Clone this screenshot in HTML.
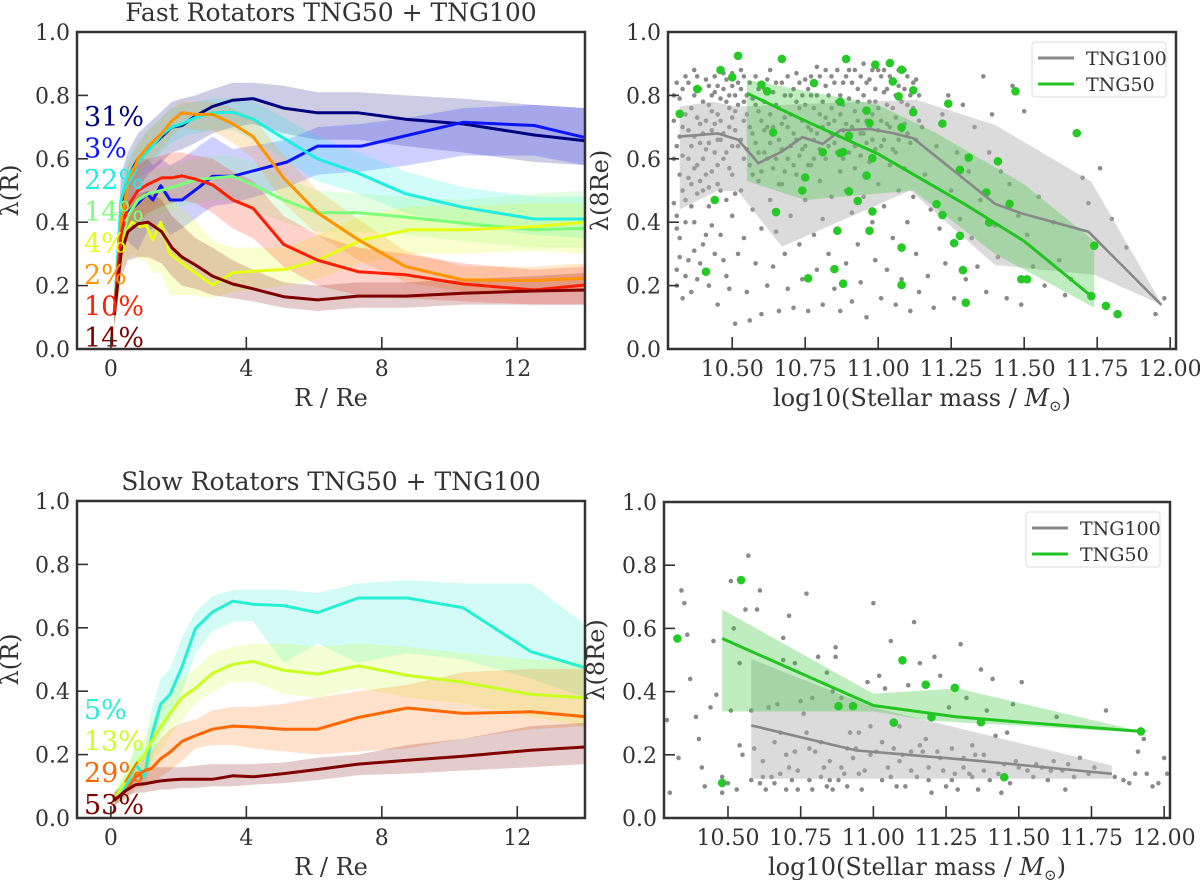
<!DOCTYPE html>
<html><head><meta charset="utf-8">
<style>
html,body{margin:0;padding:0;background:#fff;}
svg{display:block;font-family:"DejaVu Serif","Liberation Serif",serif;}
</style></head>
<body>
<svg id="fig" width="1200" height="880" viewBox="0 0 1200 880" xmlns="http://www.w3.org/2000/svg"></svg>
<script>
// ---------- Top-left: fast rotators ----------
const fastR = [0.1,0.3,0.5,0.8,1.1,1.5,1.8,2.1,2.5,3.0,3.6,4.2,5.1,6.1,7.3,8.7,10.4,12.5,14];
const fastBlueR = [0.1,0.3,0.5,0.8,1.07,1.24,1.47,1.75,2.1,2.6,3.0,3.6,5.2,6.1,7.4,8.8,10.4,12.5,14];
const fastYellowR = [0.1,0.34,0.62,0.85,1.05,1.24,1.47,1.75,2.37,3.0,3.6,5.2,6.1,7.4,8.8,10.4,12.5,14];
const fastNavy = [0.11,0.45,0.54,0.60,0.63,0.67,0.70,0.705,0.735,0.765,0.785,0.79,0.76,0.745,0.745,0.725,0.71,0.675,0.657];
const fastNavyLo = [0.07,0.36,0.45,0.51,0.55,0.59,0.62,0.63,0.65,0.68,0.70,0.71,0.68,0.66,0.66,0.64,0.62,0.59,0.58];
const fastNavyHi = [0.15,0.55,0.62,0.68,0.71,0.75,0.78,0.79,0.80,0.82,0.84,0.84,0.83,0.81,0.81,0.80,0.79,0.77,0.76];
const fastBlue = [0.11,0.41,0.43,0.46,0.49,0.47,0.515,0.47,0.47,0.51,0.545,0.545,0.59,0.64,0.64,0.675,0.715,0.705,0.667];
const fastBlueLo = [0.08,0.33,0.34,0.31,0.37,0.38,0.40,0.36,0.38,0.42,0.45,0.46,0.51,0.55,0.56,0.58,0.61,0.61,0.58];
const fastBlueHi = [0.14,0.48,0.55,0.60,0.60,0.58,0.60,0.58,0.60,0.64,0.67,0.63,0.66,0.70,0.71,0.73,0.76,0.77,0.76];
const fastCyan = [0.11,0.47,0.545,0.59,0.625,0.675,0.70,0.71,0.73,0.745,0.747,0.725,0.665,0.60,0.555,0.49,0.447,0.41,0.41];
const fastCyanLo = [0.08,0.40,0.48,0.53,0.57,0.62,0.65,0.67,0.68,0.69,0.69,0.66,0.60,0.53,0.49,0.43,0.39,0.36,0.35];
const fastCyanHi = [0.14,0.53,0.60,0.65,0.69,0.73,0.76,0.77,0.78,0.79,0.79,0.78,0.73,0.67,0.62,0.56,0.51,0.48,0.48];
const fastGreen = [0.11,0.33,0.42,0.47,0.49,0.50,0.51,0.52,0.534,0.539,0.545,0.518,0.47,0.43,0.43,0.416,0.397,0.376,0.381];
const fastGreenLo = [0.07,0.27,0.35,0.40,0.42,0.43,0.44,0.45,0.46,0.47,0.47,0.44,0.40,0.37,0.37,0.36,0.34,0.32,0.32];
const fastGreenHi = [0.15,0.40,0.49,0.54,0.56,0.57,0.58,0.59,0.60,0.61,0.61,0.59,0.54,0.50,0.49,0.48,0.47,0.49,0.50];
const fastYellow = [0.11,0.344,0.40,0.386,0.39,0.344,0.40,0.30,0.25,0.202,0.241,0.252,0.28,0.344,0.376,0.376,0.386,0.40];
const fastYellowLo = [0.07,0.26,0.30,0.28,0.28,0.24,0.24,0.17,0.17,0.16,0.18,0.20,0.22,0.27,0.30,0.30,0.31,0.30];
const fastYellowHi = [0.15,0.42,0.48,0.48,0.50,0.48,0.50,0.47,0.42,0.34,0.32,0.32,0.36,0.42,0.45,0.45,0.46,0.46];
const fastOrange = [0.11,0.40,0.52,0.60,0.64,0.68,0.72,0.745,0.74,0.74,0.71,0.67,0.54,0.43,0.345,0.26,0.218,0.216,0.223];
const fastOrangeLo = [0.07,0.33,0.45,0.54,0.59,0.63,0.67,0.70,0.69,0.69,0.65,0.60,0.46,0.36,0.28,0.21,0.18,0.18,0.18];
const fastOrangeHi = [0.15,0.46,0.58,0.65,0.69,0.73,0.76,0.78,0.78,0.78,0.76,0.73,0.61,0.50,0.41,0.31,0.26,0.26,0.27];
const fastRed = [0.11,0.36,0.45,0.50,0.52,0.54,0.54,0.546,0.536,0.518,0.47,0.444,0.33,0.28,0.244,0.234,0.205,0.186,0.202];
const fastRedLo = [0.07,0.28,0.36,0.40,0.43,0.45,0.46,0.47,0.46,0.43,0.38,0.35,0.26,0.20,0.17,0.16,0.15,0.14,0.14];
const fastRedHi = [0.15,0.44,0.53,0.58,0.60,0.61,0.62,0.62,0.61,0.60,0.56,0.53,0.42,0.36,0.32,0.30,0.27,0.25,0.26];
const fastDark = [0.107,0.30,0.37,0.395,0.40,0.37,0.32,0.29,0.265,0.23,0.205,0.19,0.165,0.155,0.167,0.167,0.176,0.183,0.186];
const fastDarkLo = [0.07,0.22,0.28,0.29,0.29,0.27,0.23,0.20,0.19,0.17,0.16,0.15,0.13,0.12,0.13,0.13,0.14,0.14,0.14];
const fastDarkHi = [0.15,0.38,0.45,0.49,0.50,0.47,0.42,0.39,0.35,0.32,0.28,0.25,0.21,0.20,0.21,0.21,0.22,0.23,0.24];
const fastPct = ["31%","3%","22%","14%","4%","2%","10%","14%"];

// ---------- Bottom-left: slow rotators ----------
const slowR = [0.1,0.45,0.73,1.0,1.2,1.47,1.75,2.1,2.5,3.0,3.6,4.2,5.1,6.1,7.3,8.75,10.4,12.4,14];
const slowTurq = [0.056,0.098,0.17,0.13,0.256,0.36,0.39,0.477,0.598,0.65,0.684,0.674,0.67,0.648,0.694,0.694,0.663,0.525,0.474];
const slowTurqLo = [0.04,0.06,0.12,0.10,0.18,0.27,0.31,0.40,0.52,0.59,0.62,0.62,0.49,0.55,0.49,0.52,0.50,0.44,0.38];
const slowTurqHi = [0.08,0.14,0.23,0.22,0.34,0.44,0.47,0.57,0.65,0.70,0.72,0.72,0.72,0.71,0.74,0.75,0.74,0.74,0.61];
const slowLime = [0.056,0.12,0.17,0.20,0.24,0.287,0.33,0.38,0.41,0.456,0.485,0.494,0.466,0.454,0.48,0.45,0.428,0.39,0.379];
const slowLimeLo = [0.04,0.08,0.12,0.14,0.17,0.21,0.26,0.31,0.36,0.40,0.43,0.43,0.39,0.38,0.41,0.38,0.36,0.32,0.29];
const slowLimeHi = [0.08,0.16,0.22,0.25,0.30,0.36,0.40,0.44,0.47,0.52,0.54,0.55,0.55,0.54,0.55,0.54,0.52,0.50,0.49];
const slowOrange = [0.056,0.087,0.13,0.15,0.156,0.187,0.208,0.242,0.26,0.28,0.29,0.287,0.28,0.28,0.317,0.347,0.33,0.335,0.32];
const slowOrangeLo = [0.04,0.06,0.09,0.10,0.11,0.13,0.15,0.18,0.22,0.23,0.23,0.22,0.21,0.20,0.21,0.22,0.25,0.28,0.29];
const slowOrangeHi = [0.08,0.12,0.17,0.20,0.21,0.25,0.28,0.30,0.31,0.34,0.35,0.35,0.36,0.38,0.40,0.42,0.46,0.47,0.47];
const slowDark = [0.056,0.087,0.105,0.108,0.112,0.117,0.12,0.122,0.122,0.122,0.133,0.13,0.14,0.153,0.17,0.182,0.195,0.214,0.224];
const slowDarkLo = [0.04,0.07,0.08,0.08,0.085,0.09,0.09,0.095,0.095,0.10,0.10,0.105,0.11,0.12,0.135,0.14,0.15,0.16,0.17];
const slowDarkHi = [0.08,0.11,0.14,0.15,0.16,0.16,0.16,0.16,0.165,0.17,0.17,0.17,0.175,0.19,0.20,0.23,0.25,0.29,0.30];
const slowPct = ["5%","13%","29%","53%"];

const rTicks = [0,4,8,12];
const yTicks = ["0.0","0.2","0.4","0.6","0.8","1.0"];
const massTicks = ["10.50","10.75","11.00","11.25","11.50","11.75","12.00"];

// ---------- Top-right scatter (mass, lambda pairs) ----------
const fastGrey = [10.31,.84,10.31,.64,10.31,.42,10.31,.25,10.32,.79,10.32,.55,10.32,.35,10.33,.70,10.33,.16,10.34,.86,10.34,.47,10.35,.60,10.35,.28,10.36,.76,10.36,.52,10.37,.88,10.37,.67,10.37,.40,10.38,.22,10.38,.58,10.39,.82,10.39,.71,10.40,.50,10.40,.33,10.41,.85,10.41,.63,10.42,.77,10.42,.20,10.42,.45,10.43,.69,10.43,.56,10.44,.30,10.44,.81,10.45,.74,10.45,.52,10.45,.14,10.46,.66,10.46,.36,10.47,.87,10.47,.60,10.48,.78,10.48,.47,10.48,.23,10.49,.70,10.49,.19,10.50,.83,10.50,.55,10.50,.42,10.51,.75,10.51,.08,10.52,.64,10.52,.30,10.53,.88,10.53,.50,10.54,.72,10.54,.35,10.55,.80,10.55,.18,10.56,.58,10.56,.09,10.57,.68,10.57,.44,10.58,.86,10.58,.27,10.59,.53,10.59,.75,10.60,.38,10.60,.11,10.61,.82,10.61,.62,10.62,.20,10.62,.70,10.63,.47,10.63,.88,10.64,.57,10.64,.26,10.65,.77,10.65,.37,10.66,.66,10.66,.12,10.67,.84,10.67,.52,10.68,.30,10.68,.73,10.69,.60,10.69,.19,10.70,.80,10.70,.42,10.71,.68,10.71,.13,10.72,.87,10.72,.55,10.73,.33,10.73,.76,10.74,.63,10.74,.22,10.75,.85,10.75,.47,10.76,.70,10.76,.12,10.77,.58,10.77,.80,10.78,.36,10.78,.66,10.79,.89,10.79,.25,10.80,.53,10.80,.74,10.81,.41,10.81,.14,10.82,.83,10.82,.60,10.83,.30,10.83,.71,10.84,.86,10.84,.48,10.85,.19,10.85,.65,10.86,.78,10.86,.38,10.87,.56,10.87,.12,10.88,.84,10.88,.69,10.89,.27,10.89,.50,10.90,.88,10.90,.62,10.91,.43,10.91,.15,10.92,.75,10.92,.57,10.93,.33,10.93,.82,10.94,.68,10.94,.21,10.95,.90,10.95,.48,10.96,.72,10.96,.10,10.97,.59,10.97,.85,10.98,.40,10.98,.66,10.99,.28,10.99,.78,11.00,.52,11.00,.88,11.01,.16,11.01,.64,11.02,.81,11.02,.45,11.03,.71,11.03,.25,11.04,.58,11.04,.86,11.05,.35,11.05,.76,11.06,.62,11.06,.14,11.07,.83,11.07,.50,11.08,.69,11.08,.22,11.09,.88,11.09,.57,11.10,.40,11.10,.77,11.11,.65,11.11,.12,11.12,.84,11.12,.48,11.13,.30,11.14,.72,11.14,.18,11.16,.55,11.17,.23,11.18,.44,11.19,.13,11.20,.64,11.21,.38,11.22,.74,11.23,.27,11.24,.80,11.25,.50,11.26,.16,11.27,.62,11.28,.41,11.29,.77,11.30,.22,11.31,.56,11.32,.35,11.33,.70,11.34,.26,11.35,.47,11.36,.86,11.37,.18,11.38,.62,11.39,.74,11.40,.39,11.41,.29,11.42,.56,11.44,.16,11.45,.52,11.46,.83,11.48,.42,11.49,.14,11.50,.75,11.51,.36,11.53,.26,11.55,.48,11.57,.20,11.60,.40,11.62,.28,11.64,.17,11.66,.22,11.70,.54,11.72,.46,11.76,.57,11.80,.41,11.85,.32,11.95,.11,11.98,.16,
10.30,.80,10.30,.72,10.30,.60,10.30,.46,10.31,.38,10.31,.20,10.32,.67,10.32,.29,10.33,.82,10.33,.61,10.33,.50,10.34,.74,10.34,.40,10.34,.23,10.35,.84,10.35,.69,10.35,.54,10.36,.64,10.36,.45,10.36,.18,10.37,.80,10.37,.57,10.37,.31,10.38,.86,10.38,.73,10.38,.49,10.39,.65,10.39,.53,10.39,.27,10.40,.78,10.40,.68,10.40,.60,10.41,.72,10.41,.55,10.41,.36,10.42,.83,10.42,.65,10.42,.51,10.43,.80,10.43,.75,10.43,.39,10.44,.86,10.44,.71,10.44,.62,10.45,.83,10.45,.66,10.45,.58,10.46,.79,10.46,.72,10.46,.50,10.47,.82,10.47,.68,10.47,.28,10.48,.85,10.48,.62,10.49,.80,10.49,.76,10.49,.57,10.50,.87,10.50,.73,10.50,.64,10.51,.80,10.51,.69,10.51,.49,10.52,.84,10.52,.77,10.53,.82,10.53,.66,10.54,.86,10.54,.78,10.54,.60,10.55,.74,10.55,.63,10.56,.84,10.56,.70,10.57,.79,10.57,.55,10.58,.77,10.58,.65,10.59,.82,10.59,.62,10.60,.72,10.60,.56,10.61,.78,10.61,.69,10.62,.85,10.62,.60,10.63,.74,10.63,.65,10.64,.81,10.64,.70,10.65,.84,10.65,.60,10.66,.76,10.66,.52,10.67,.71,10.67,.63,10.68,.80,10.68,.56,10.69,.86,10.69,.70,10.70,.74,10.70,.64,10.71,.82,10.71,.58,10.72,.78,10.72,.66,10.73,.84,10.73,.61,10.74,.80,10.74,.72,10.75,.77,10.75,.64,10.76,.82,10.76,.58,10.77,.86,10.77,.69,10.78,.76,10.78,.60,10.79,.80,10.79,.68,10.80,.86,10.80,.63,10.81,.78,10.81,.70,10.82,.88,10.82,.73,10.83,.80,10.83,.64,10.84,.76,10.84,.68,10.85,.84,10.85,.72,10.86,.88,10.86,.62,10.87,.80,10.87,.74,10.88,.77,10.88,.60,10.89,.86,10.89,.71,10.90,.79,10.90,.66,10.91,.84,10.91,.70,10.92,.88,10.92,.64,10.93,.78,10.93,.72,10.94,.86,10.94,.61,10.95,.80,10.95,.68,10.96,.84,10.96,.65,10.97,.78,10.97,.70,10.98,.88,10.98,.74,10.99,.82,10.99,.63,11.00,.76,11.00,.69,11.01,.86,11.01,.72,11.02,.88,11.02,.66,11.03,.82,11.03,.77,11.04,.70,11.05,.84,11.05,.63,11.06,.80,11.06,.73,11.07,.88,11.07,.66,11.08,.78,11.09,.82,11.09,.71,11.10,.86,11.10,.68,11.11,.80,11.12,.76,11.13,.85,11.13,.66,11.14,.80,11.15,.70];
const fastTng50Pts = [10.32,.742,10.38,.82,10.46,.88,10.50,.857,10.52,.925,10.60,.834,10.62,.813,10.64,.683,10.65,.432,10.44,.47,10.41,.244,10.67,.915,10.74,.50,10.75,.541,10.76,.223,10.78,.839,10.81,.621,10.85,.252,10.86,.373,10.87,.78,10.87,.618,10.88,.621,10.88,.206,10.89,.915,10.90,.497,10.90,.673,10.93,.467,10.96,.752,10.96,.547,10.97,.713,10.98,.602,10.97,.373,10.98,.434,10.99,.897,11.04,.902,11.05,.844,11.07,.797,11.08,.699,11.08,.202,11.08,.32,11.08,.881,11.12,.816,11.12,.747,11.20,.457,11.22,.711,11.22,.423,11.24,.774,11.26,.334,11.28,.357,11.28,.565,11.29,.249,11.30,.146,11.31,.604,11.37,.494,11.38,.399,11.41,.592,11.45,.458,11.47,.813,11.49,.22,11.51,.22,11.68,.681,11.73,.167,11.74,.326,11.78,.136,11.82,.11];
const fastTng100M = [10.32,10.45,10.52,10.59,10.67,10.74,10.81,10.87,10.97,11.05,11.12,11.29,11.40,11.49,11.72,11.97];
const fastTng100L = [0.67,0.68,0.66,0.586,0.623,0.668,0.647,0.69,0.694,0.681,0.665,0.539,0.458,0.428,0.37,0.139];
const fastTng100HiM = [10.32,10.43,10.52,11.13,11.40,11.73,11.97];
const fastTng100Hi = [0.765,0.78,0.765,0.786,0.707,0.528,0.144];
const fastTng100LoM = [10.32,10.45,10.52,10.67,11.11,11.40,11.74,11.97];
const fastTng100Lo = [0.44,0.50,0.497,0.323,0.50,0.265,0.234,0.14];
const fastTng50M = [10.55,10.75,11.0,11.3,11.5,11.73];
const fastTng50L = [0.807,0.72,0.615,0.455,0.34,0.167];
const fastTng50HiM = [10.55,11.0,11.2,11.5,11.74];
const fastTng50Hi = [0.85,0.77,0.68,0.52,0.34];
const fastTng50LoM = [10.55,10.75,11.12,11.4,11.74];
const fastTng50Lo = [0.53,0.47,0.50,0.30,0.13];

// ---------- Bottom-right scatter ----------
const slowGrey = [10.29,.31,10.30,.08,10.33,.19,10.34,.72,10.35,.68,10.36,.58,10.37,.44,10.39,.32,10.40,.25,10.41,.16,10.42,.10,10.44,.35,10.45,.56,10.46,.39,10.48,.13,10.48,.08,10.50,.11,10.51,.75,10.51,.34,10.52,.60,10.53,.09,10.54,.49,10.54,.23,10.55,.20,10.56,.66,10.57,.83,10.58,.34,10.58,.12,10.59,.22,10.60,.66,10.61,.72,10.61,.11,10.62,.13,10.63,.09,10.64,.35,10.65,.13,10.66,.24,10.67,.36,10.68,.14,10.68,.27,10.69,.50,10.69,.57,10.70,.09,10.71,.16,10.71,.64,10.72,.12,10.73,.49,10.73,.21,10.74,.09,10.75,.37,10.76,.33,10.77,.71,10.77,.27,10.78,.12,10.79,.38,10.79,.09,10.80,.21,10.81,.51,10.82,.13,10.83,.16,10.84,.46,10.84,.10,10.85,.18,10.86,.40,10.86,.09,10.87,.54,10.87,.51,10.88,.12,10.89,.38,10.90,.14,10.91,.10,10.92,.27,10.93,.19,10.94,.22,10.95,.27,10.96,.09,10.97,.15,10.98,.43,10.99,.29,11.00,.68,11.01,.21,11.02,.45,11.03,.12,11.04,.41,11.05,.16,11.06,.56,11.07,.22,11.08,.10,11.09,.29,11.10,.20,11.11,.10,11.12,.42,11.13,.21,11.14,.62,11.15,.13,11.16,.49,11.17,.21,11.18,.25,11.19,.16,11.20,.08,11.21,.51,11.22,.21,11.23,.45,11.24,.15,11.25,.10,11.26,.35,11.27,.22,11.28,.14,11.29,.09,11.30,.55,11.31,.19,11.32,.38,11.33,.14,11.34,.23,11.35,.20,11.36,.09,11.37,.47,11.38,.15,11.39,.34,11.40,.12,11.41,.44,11.42,.26,11.44,.08,11.45,.17,11.46,.27,11.47,.11,11.48,.36,11.50,.16,11.51,.43,11.53,.15,11.56,.17,11.58,.16,11.60,.12,11.62,.18,11.63,.32,11.65,.15,11.66,.09,11.69,.13,11.71,.19,11.74,.14,11.76,.16,11.80,.34,11.83,.13,11.86,.12,11.88,.11,11.90,.14,11.91,.21,11.93,.25,11.94,.14,11.96,.10,11.98,.11,12.00,.19,12.01,.14,
10.62,.18,10.66,.11,10.70,.20,10.74,.15,10.78,.22,10.82,.24,10.85,.12,10.89,.16,10.91,.22,10.95,.14,10.99,.20,11.03,.24,11.06,.13,11.09,.18,11.13,.15,11.16,.23,11.19,.12,11.23,.19,11.27,.12,11.31,.16,11.34,.13,11.38,.20,11.43,.14,11.49,.18,11.55,.13,11.61,.15,11.67,.17];
const slowTng50Pts = [10.326,.568,10.48,.111,10.545,.753,10.88,.354,10.93,.354,11.07,.302,11.10,.499,11.18,.422,11.20,.319,11.28,.412,11.37,.303,11.45,.129,11.92,.274];
const slowTng50M = [10.48,11.0,11.28,11.51,11.92];
const slowTng50L = [0.568,0.356,0.321,0.303,0.274];
const slowTng50HiM = [10.48,11.0,11.29,11.92];
const slowTng50Hi = [0.66,0.393,0.41,0.274];
const slowTng50LoM = [10.48,11.0,11.2,11.92];
const slowTng50Lo = [0.337,0.337,0.308,0.27];
const slowTng100M = [10.58,10.94,11.37,11.82];
const slowTng100L = [0.293,0.214,0.18,0.14];
const slowTng100HiM = [10.58,11.0,11.82];
const slowTng100Hi = [0.503,0.35,0.166];
const slowTng100LoM = [10.58,11.82];
const slowTng100Lo = [0.124,0.124];

const NS = "http://www.w3.org/2000/svg";
const svg = document.getElementById("fig");
function el(tag, attrs, parent, txt){
  const e = document.createElementNS(NS, tag);
  for (const k in attrs) e.setAttribute(k, attrs[k]);
  if (txt !== undefined) e.textContent = txt;
  (parent || svg).appendChild(e);
  return e;
}
function makeScale(d0, d1, p0, p1){ return v => p0 + (v - d0) / (d1 - d0) * (p1 - p0); }
function linePath(xs, ys, sx, sy){
  return xs.map((x,i)=>(i?"L":"M")+sx(x).toFixed(1)+","+sy(ys[i]).toFixed(1)).join("");
}
function bandPath(xsHi, hi, xsLo, lo, sx, sy){
  let d = xsHi.map((x,i)=>(i?"L":"M")+sx(x).toFixed(1)+","+sy(hi[i]).toFixed(1)).join("");
  for (let i = xsLo.length-1; i >= 0; i--) d += "L"+sx(xsLo[i]).toFixed(1)+","+sy(lo[i]).toFixed(1);
  return d + "Z";
}

function axesFrame(g, x0, x1, y0, y1, sx, sy, xt, xtv, xlab, ylab, ylabX){
  yTicks.forEach(t=>{
    const y = sy(parseFloat(t));
    const tk = el("line",{x1:x0,x2:x0+11,y1:y,y2:y,stroke:"#333","stroke-width":1.6},g);
    
    
    const lb = el("text",{x:x0-7,y:y+8,"text-anchor":"end","font-size":22,fill:"#333"},g,t);
    
    
  });
  xt.forEach((t,i)=>{
    const x = sx(xtv[i]);
    const tk = el("line",{x1:x,x2:x,y1:y1,y2:y1-12,stroke:"#333","stroke-width":1.6},g);
    
    
    const lb = el("text",{x:x,y:y1+27,"text-anchor":"middle","font-size":22,fill:"#333"},g,t);
    
    
  });
  const fr = el("rect",{x:x0,y:y0,width:x1-x0,height:y1-y0,fill:"none",stroke:"#333","stroke-width":2.5},g);
  
  
  const xl = el("text",{x:(x0+x1)/2,y:y1+57,"text-anchor":"middle","font-size":24,fill:"#333"},g);
  
  
  if (xlab === "mass"){
    el("tspan",{},xl,"log10(Stellar mass / ");
    el("tspan",{"font-style":"italic"},xl,"M");
    el("tspan",{"font-size":15,dy:5},xl,"⊙");
    el("tspan",{dy:-5},xl,")");
  } else xl.textContent = xlab;
  const cy = (y0+y1)/2;
  const yl = el("text",{x:ylabX,y:cy,"text-anchor":"middle","font-size":24,fill:"#333",transform:"rotate(-90 "+ylabX+" "+cy+")"},g,ylab);
  
  
}

function profilePanel(name, y0, y1, title, series, pct, ybase){
  const x0=77, x1=585;
  const g = el("g",{});
  
  
  const sx = makeScale(-1,14,x0,x1), sy = makeScale(0,1,y1,y0);
  const t = el("text",{x:331,y:y0-11,"text-anchor":"middle","font-size":25,fill:"#333"},g,title);
  
  
  const cp = "clip-"+name;
  const c = el("clipPath",{id:cp},g); el("rect",{x:x0,y:y0,width:x1-x0,height:y1-y0},c);
  const inner = el("g",{"clip-path":"url(#"+cp+")"},g);
  series.forEach(s=>{
    const b = el("path",{d:bandPath(s.x,s.hi,s.x,s.lo,sx,sy),fill:s.c,"fill-opacity":0.2,stroke:"none"},inner);
    
    
  });
  series.forEach(s=>{
    const l = el("path",{d:linePath(s.x,s.y,sx,sy),fill:"none",stroke:s.c,"stroke-width":3,"stroke-linejoin":"round"},inner);
    
    
  });
  pct.forEach((p,i)=>{
    const tx = el("text",{x:84,y:ybase+i*31.6,"font-size":27,fill:series[i].c},g,p);
    
    
  });
  axesFrame(g,x0,x1,y0,y1,sx,sy,rTicks.map(String),rTicks,"R / Re","λ(R)",18);
}

function massPanel(name, x0, x1, y0, y1, d){
  const g = el("g",{});
  
  
  const sx = makeScale(10.28,12.02,x0,x1), sy = makeScale(0,1,y1,y0);
  const cp = "clip-"+name;
  const c = el("clipPath",{id:cp},g); el("rect",{x:x0,y:y0,width:x1-x0,height:y1-y0},c);
  const inner = el("g",{"clip-path":"url(#"+cp+")"},g);
  for (let i=0;i<d.grey.length;i+=2){
    const p = el("circle",{cx:sx(d.grey[i]),cy:sy(d.grey[i+1]),r:2.3,fill:"#8a8a8a"},inner);
    
    
  }
  const gb = el("path",{d:bandPath(d.gHiM,d.gHi,d.gLoM,d.gLo,sx,sy),fill:"#b0b0b0","fill-opacity":0.45},inner);
  
  
  const nb = el("path",{d:bandPath(d.nHiM,d.nHi,d.nLoM,d.nLo,sx,sy),fill:"#3cc83c","fill-opacity":0.32},inner);
  
  
  for (let i=0;i<d.green.length;i+=2){
    const p = el("circle",{cx:sx(d.green[i]),cy:sy(d.green[i+1]),r:4.3,fill:"#26c926"},inner);
    
    
  }
  const gl = el("path",{d:linePath(d.gM,d.gL,sx,sy),fill:"none",stroke:"#888","stroke-width":2.6},inner);
  
  
  const nl = el("path",{d:linePath(d.nM,d.nL,sx,sy),fill:"none",stroke:"#22c422","stroke-width":3},inner);
  
  
  axesFrame(g,x0,x1,y0,y1,sx,sy,massTicks,massTicks.map(parseFloat),"mass","λ(8Re)",x0-60);
  const lx = x1-144, ly = y0+10;
  const lg = el("g",{},g);
  
  
  el("rect",{x:lx,y:ly,width:134,height:55,rx:3,fill:"#fff","fill-opacity":0.85,stroke:"#ddd","stroke-width":1},lg);
  [["TNG100","#888"],["TNG50","#22c422"]].forEach((e,i)=>{
    const it = el("g",{},lg);
    
    
    el("line",{x1:lx+6,x2:lx+42,y1:ly+16+i*26,y2:ly+16+i*26,stroke:e[1],"stroke-width":3},it);
    el("text",{x:lx+54,y:ly+23,"font-size":19,fill:"#333",transform:"translate(0,"+(i*26)+")"},it,e[0]);
  });
}

profilePanel("fast-rotators-panel",32,349,"Fast Rotators TNG50 + TNG100",[
  {n:"navy",c:"#00007f",x:fastR,y:fastNavy,lo:fastNavyLo,hi:fastNavyHi},
  {n:"blue",c:"#0a14ff",x:fastBlueR,y:fastBlue,lo:fastBlueLo,hi:fastBlueHi},
  {n:"cyan",c:"#20eee0",x:fastR,y:fastCyan,lo:fastCyanLo,hi:fastCyanHi},
  {n:"lightgreen",c:"#7cff79",x:fastR,y:fastGreen,lo:fastGreenLo,hi:fastGreenHi},
  {n:"yellow",c:"#e6ff12",x:fastYellowR,y:fastYellow,lo:fastYellowLo,hi:fastYellowHi},
  {n:"orange",c:"#ff9400",x:fastR,y:fastOrange,lo:fastOrangeLo,hi:fastOrangeHi},
  {n:"red",c:"#ff1e00",x:fastR,y:fastRed,lo:fastRedLo,hi:fastRedHi},
  {n:"darkred",c:"#7f0000",x:fastR,y:fastDark,lo:fastDarkLo,hi:fastDarkHi}
], fastPct, 126);

profilePanel("slow-rotators-panel",501,818,"Slow Rotators TNG50 + TNG100",[
  {n:"turquoise",c:"#26f0d2",x:slowR,y:slowTurq,lo:slowTurqLo,hi:slowTurqHi},
  {n:"lime",c:"#c9ff22",x:slowR,y:slowLime,lo:slowLimeLo,hi:slowLimeHi},
  {n:"orange",c:"#ff6800",x:slowR,y:slowOrange,lo:slowOrangeLo,hi:slowOrangeHi},
  {n:"darkred",c:"#7f0000",x:slowR,y:slowDark,lo:slowDarkLo,hi:slowDarkHi}
], slowPct, 719);

massPanel("fast-mass-panel",668,1176,32,349,{grey:fastGrey,green:fastTng50Pts,
  gM:fastTng100M,gL:fastTng100L,gHiM:fastTng100HiM,gHi:fastTng100Hi,gLoM:fastTng100LoM,gLo:fastTng100Lo,
  nM:fastTng50M,nL:fastTng50L,nHiM:fastTng50HiM,nHi:fastTng50Hi,nLoM:fastTng50LoM,nLo:fastTng50Lo});
massPanel("slow-mass-panel",664,1170,502,818,{grey:slowGrey,green:slowTng50Pts,
  gM:slowTng100M,gL:slowTng100L,gHiM:slowTng100HiM,gHi:slowTng100Hi,gLoM:slowTng100LoM,gLo:slowTng100Lo,
  nM:slowTng50M,nL:slowTng50L,nHiM:slowTng50HiM,nHi:slowTng50Hi,nLoM:slowTng50LoM,nLo:slowTng50Lo});
</script>
</body></html>
